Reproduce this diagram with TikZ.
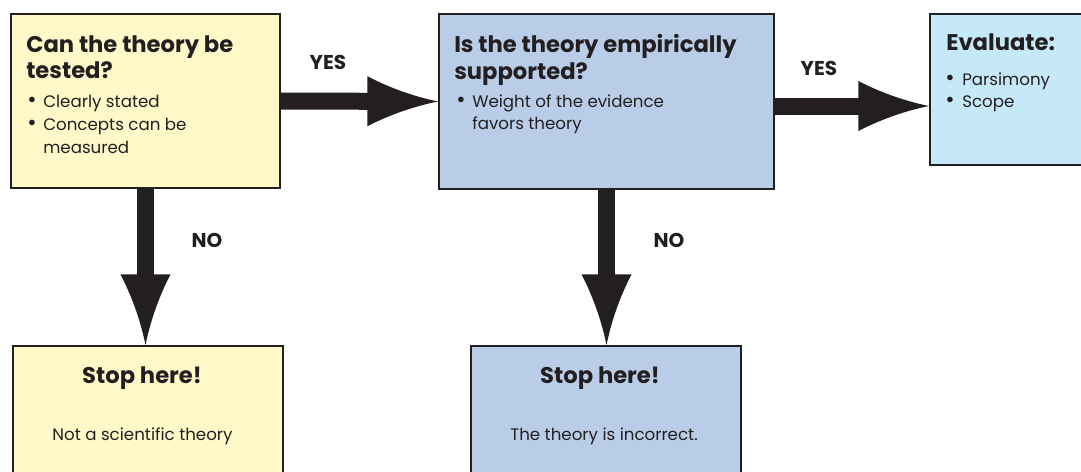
\documentclass[tikz,border=0pt]{standalone}
\usepackage{fontspec}
\setmainfont{Poppins}
\usetikzlibrary{arrows.meta}
\definecolor{ink}{HTML}{231F20}
\definecolor{paleyellow}{HTML}{FFF9C9}
\definecolor{paleblue}{HTML}{B9CDE9}
\definecolor{skyblue}{HTML}{C6E9F9}
\pgfdeclarearrow{
  name=BigHead,
  parameters={\the\pgfarrowlength,\the\pgfarrowwidth},
  setup code={
    \pgfarrowssettipend{0pt}
    \pgfarrowssetlineend{-.8\pgfarrowlength}
    \pgfarrowssetbackend{-\pgfarrowlength}
    \pgfarrowsupperhullpoint{-\pgfarrowlength}{.5\pgfarrowwidth}
    \pgfarrowsupperhullpoint{0pt}{0pt}
    \pgfarrowssavethe\pgfarrowlength
    \pgfarrowssavethe\pgfarrowwidth
  },
  drawing code={
    \pgfpathmoveto{\pgfqpoint{0pt}{0pt}}
    \pgfpathcurveto{\pgfqpoint{-.35\pgfarrowlength}{.1\pgfarrowwidth}}{\pgfqpoint{-.7\pgfarrowlength}{.28\pgfarrowwidth}}{\pgfqpoint{-\pgfarrowlength}{.5\pgfarrowwidth}}
    \pgfpathlineto{\pgfqpoint{-\pgfarrowlength}{-.5\pgfarrowwidth}}
    \pgfpathcurveto{\pgfqpoint{-.7\pgfarrowlength}{-.28\pgfarrowwidth}}{\pgfqpoint{-.35\pgfarrowlength}{-.1\pgfarrowwidth}}{\pgfqpoint{0pt}{0pt}}
    \pgfpathclose
    \pgfusepathqfill
  },
  defaults={length=10pt,width=8pt}
}
\begin{document}
\begin{tikzpicture}[x=0.75pt,y=-0.75pt,
  box/.style={draw=ink,line width=1.5pt,rectangle,anchor=north west,inner sep=0pt},
  title/.style={anchor=base west,inner sep=0pt,text=ink,font=\fontsize{17pt}{20pt}\selectfont\bfseries},
  stoptitle/.style={title,anchor=base},
  body/.style={anchor=base west,inner sep=0pt,text=ink,font=\fontsize{12.5pt}{15pt}\selectfont},
  bul/.style={anchor=base,inner sep=0pt,text=ink,font=\fontsize{17pt}{20pt}\selectfont},
  stopbody/.style={body,anchor=base},
  lbl/.style={inner sep=0pt,text=ink,font=\fontsize{15pt}{18pt}\selectfont\bfseries},
  bigarrow/.style={draw=ink,line width=12.75pt,-{BigHead[length=53pt,width=37.5pt]}}
]
\clip (0,0) rectangle (1081,471);
\fill[white] (0,0) rectangle (1081,471);

% boxes
\node[box,fill=paleyellow,minimum width=201.75pt,minimum height=130.5pt] (b1) at (10,13) {};
\node[box,fill=paleblue,minimum width=251.25pt,minimum height=131.25pt] (b2) at (438,13) {};
\node[box,fill=skyblue,minimum width=120pt,minimum height=113.25pt] (b3) at (929,13) {};
\node[box,fill=paleyellow,minimum width=202.5pt,minimum height=105pt] (s1) at (12,345) {};
\node[box,fill=paleblue,minimum width=202.5pt,minimum height=105pt] (s2) at (470,345) {};

% box 1 text
\node[title] (t1a) at (26,52) {Can the theory be};
\node[title] (t1b) at (26,78) {tested?};
\node[bul] (d1a) at (32,107) {•};
\node[bul] (d1b) at (32,130) {•};
\node[body] (l1a) at (43,107) {Clearly stated};
\node[body] (l1b) at (43,130) {Concepts can be};
\node[body] (l1c) at (43,153) {measured};

% box 2 text
\node[title] (t2a) at (454,52) {Is the theory empirically};
\node[title] (t2b) at (454,79) {supported?};
\node[bul] (d2a) at (461,107) {•};
\node[body] (l2a) at (472,107) {Weight of the evidence};
\node[body] (l2b) at (472,129) {favors theory};

% box 3 text
\node[title] (t3a) at (946,50) {Evaluate:};
\node[bul] (d3a) at (950,85) {•};
\node[bul] (d3b) at (950,107) {•};
\node[body] (l3a) at (962,85) {Parsimony};
\node[body] (l3b) at (962,107) {Scope};

% stop boxes text
\node[stoptitle] (st1) at (142,383) {Stop here!};
\node[stopbody] (sb1) at (142.5,440) {Not a scientific theory};
\node[stoptitle] (st2) at (600,383) {Stop here!};
\node[stopbody] (sb2) at (604,440) {The theory is incorrect.};

% arrows
\coordinate (a2y) at (0,106);
\draw[bigarrow] (b1.east) -- (b2.west);
\draw[bigarrow] (b2.east |- a2y) -- (b3.west |- a2y);
\draw[bigarrow] (b1.south) -- (b1.south |- s1.north);
\draw[bigarrow] (b2.south) -- (b2.south |- s2.north);

% labels
\node[lbl] (yes1) at (328,62) {YES};
\node[lbl] (yes2) at (819,68) {YES};
\node[lbl] (no1) at (207,240) {NO};
\node[lbl] (no2) at (669,240) {NO};
\end{tikzpicture}
\end{document}
